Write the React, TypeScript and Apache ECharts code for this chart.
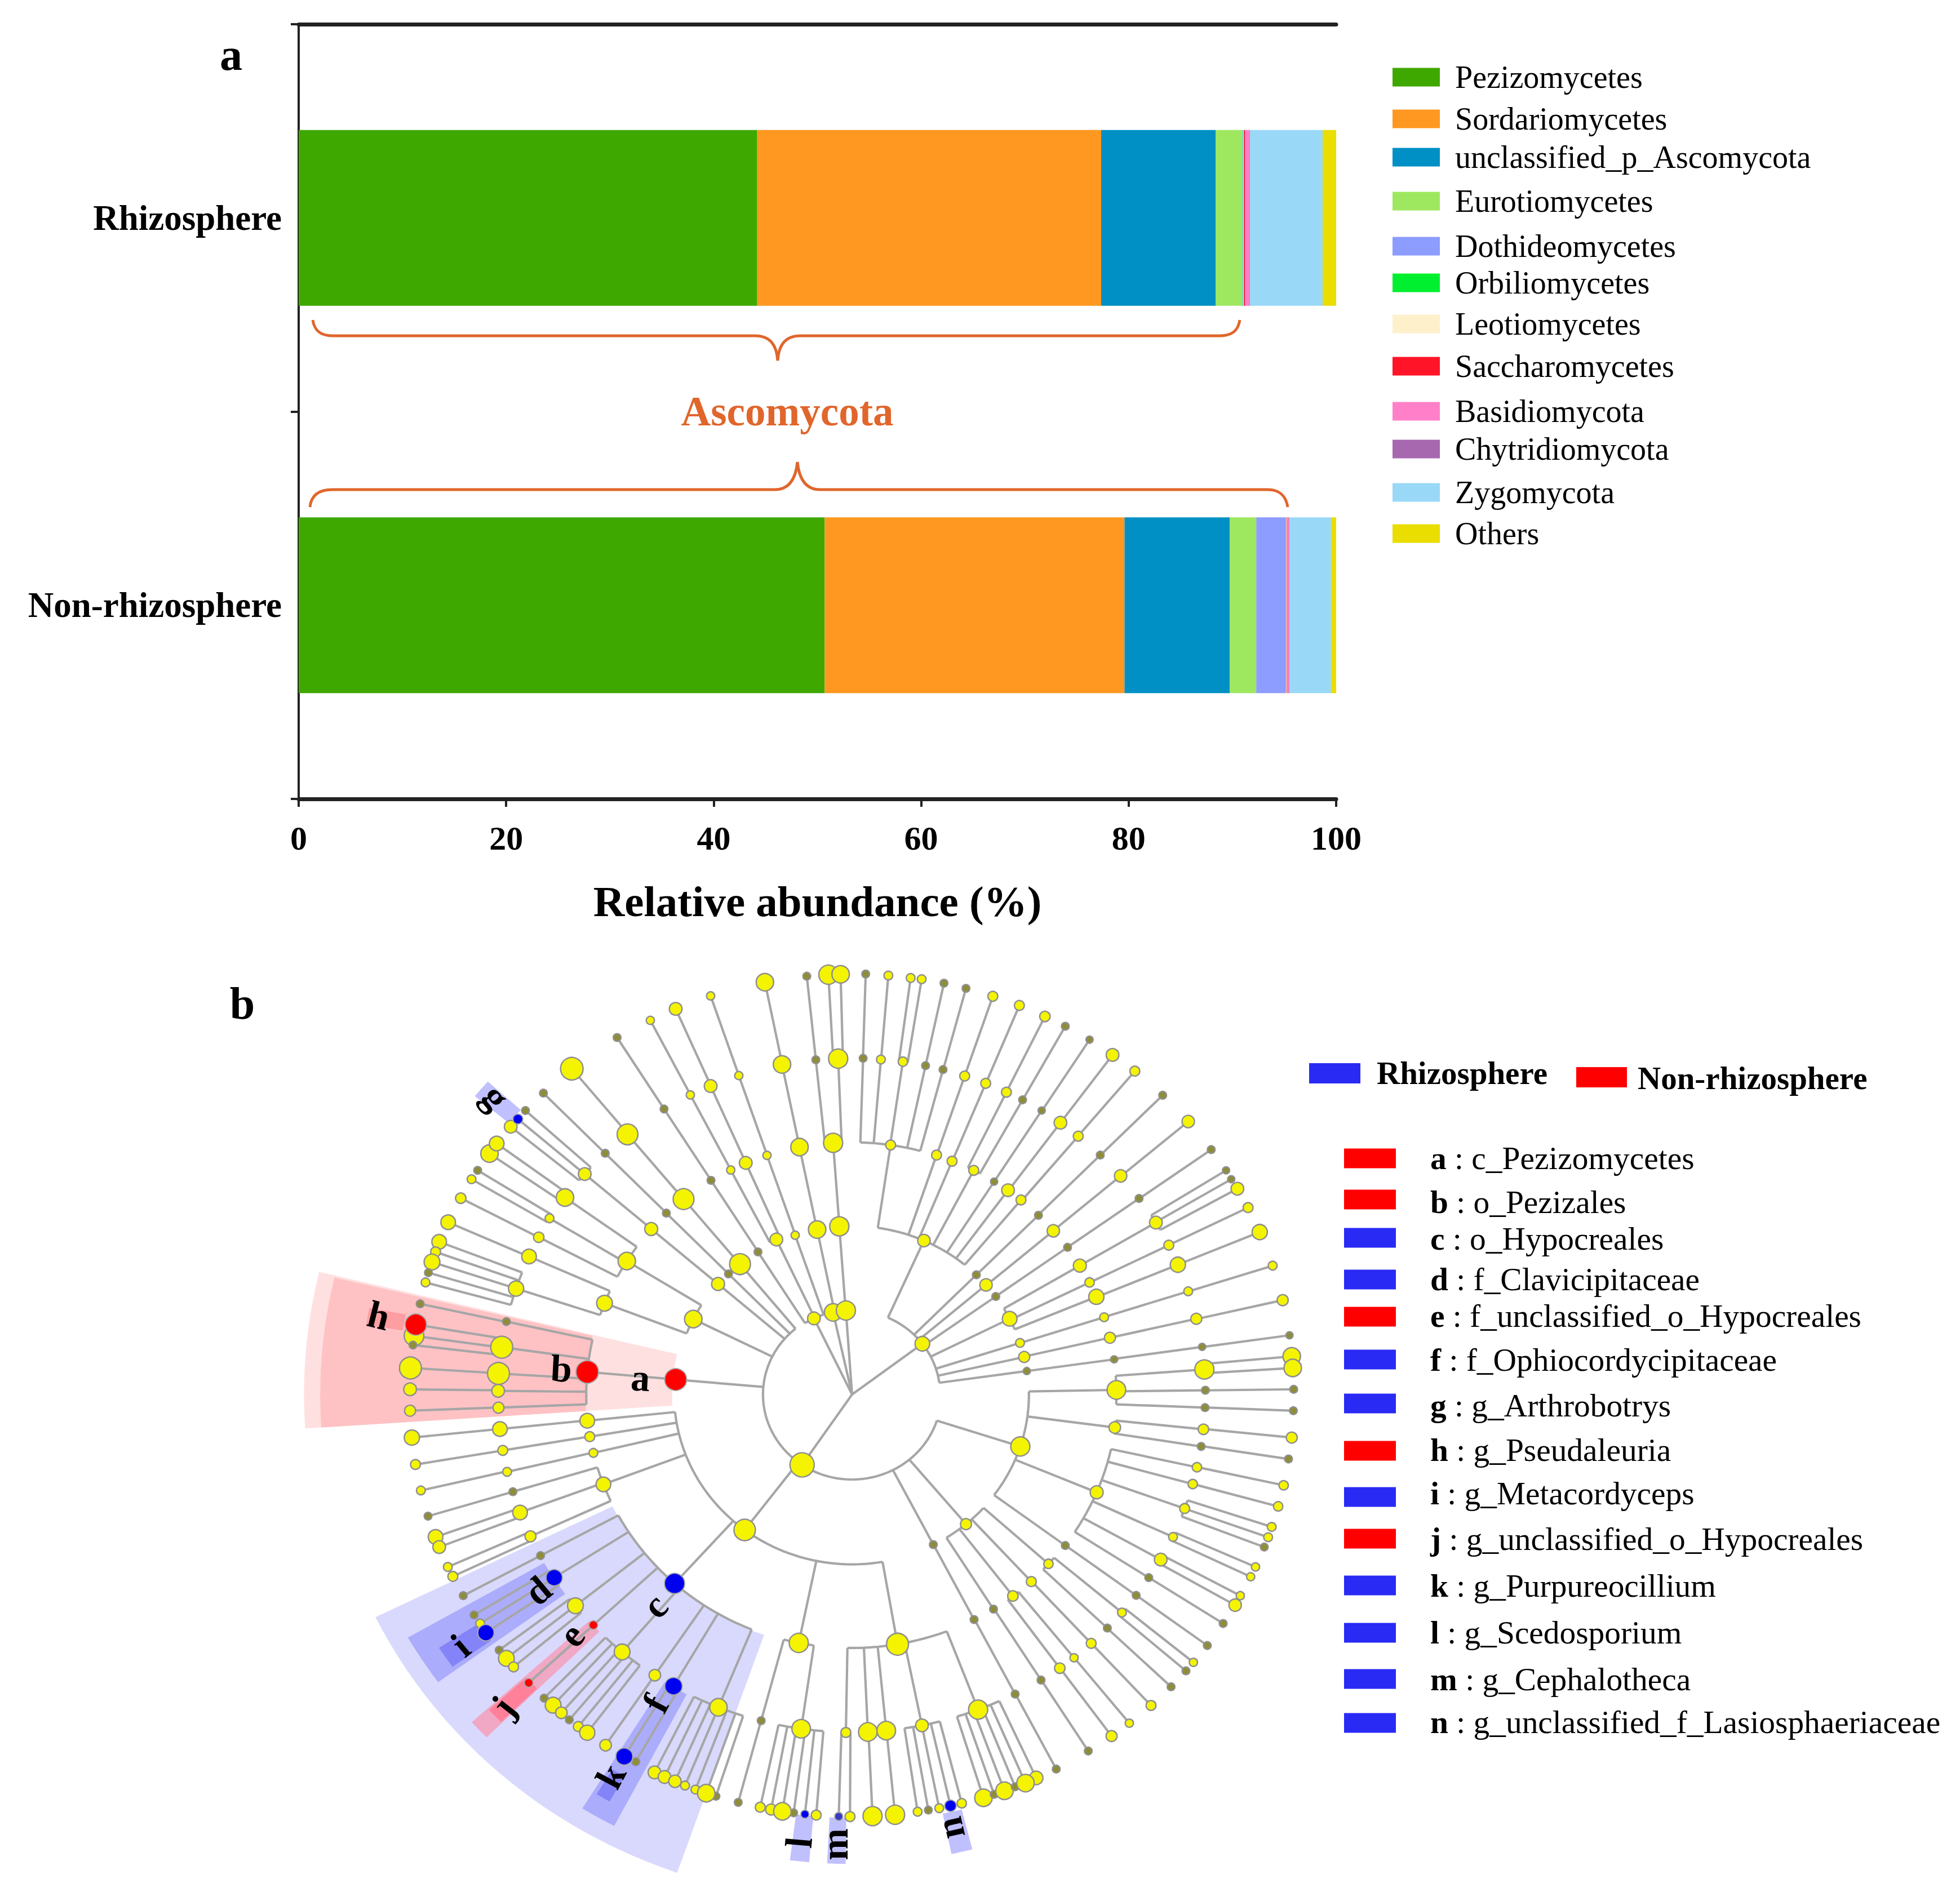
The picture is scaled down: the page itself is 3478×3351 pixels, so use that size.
import React, { useEffect, useRef } from "react";
import * as echarts from "echarts";

const FONT = "'Liberation Serif'";

// ---------- panel a ----------
const groups = ["Rhizosphere", "Non-rhizosphere"];
const taxa = ["Pezizomycetes", "Sordariomycetes", "unclassified_p_Ascomycota", "Eurotiomycetes", "Dothideomycetes", "Orbiliomycetes", "Leotiomycetes", "Saccharomycetes", "Basidiomycota", "Chytridiomycota", "Zygomycota", "Others"];
const rhizosphereValues = [44.2, 33.15, 11.05, 2.55, 0.05, 0.05, 0.05, 0.1, 0.45, 0.05, 7.0, 1.3];
const nonRhizosphereValues = [50.7, 28.9, 10.15, 2.55, 2.85, 0.03, 0.03, 0.04, 0.2, 0.05, 4.0, 0.5];
const taxaColors = ["#3fa800", "#ff9820", "#0090c5", "#9ee85f", "#8c9cff", "#00f030", "#fff0cc", "#ff1428", "#ff80c8", "#a868b0", "#9ad8f8", "#eadd00"];
const taxaLegendY = [137, 211, 279, 357, 437, 502, 575, 650, 730, 797, 874, 947];

// ---------- panel b legend ----------
const biomarkerLetters = ["a", "b", "c", "d", "e", "f", "g", "h", "i", "j", "k", "l", "m", "n"];
const biomarkerNames = ["c_Pezizomycetes", "o_Pezizales", "o_Hypocreales", "f_Clavicipitaceae", "f_unclassified_o_Hypocreales", "f_Ophiocordycipitaceae", "g_Arthrobotrys", "g_Pseudaleuria", "g_Metacordyceps", "g_unclassified_o_Hypocreales", "g_Purpureocillium", "g_Scedosporium", "g_Cephalotheca", "g_unclassified_f_Lasiosphaeriaceae"];
const biomarkerGroup = ["N", "N", "R", "R", "N", "R", "R", "N", "R", "N", "R", "R", "R", "R"];
const biomarkerSwatchY = [2056, 2129, 2197, 2271, 2337, 2413, 2491, 2575, 2657, 2731, 2814, 2898, 2980, 3058];
const biomarkerTextY = [2055, 2133, 2198, 2270, 2335, 2413, 2494, 2573, 2650, 2731, 2814, 2897, 2980, 3056];

// ---------- cladogram: positions ----------
const A = (x: number, y: number) => [500 + x / 1.568, 1680 + y / 1.845];
const B = (x: number, y: number) => [1500 + x / 1.742, 1680 + y / 1.845];
const C = (x: number, y: number) => [500 + x / 1.568, 2500 + y / 1.8425];
const D = (x: number, y: number) => [1500 + x / 1.742, 2500 + y / 1.8425];
const E = (x: number, y: number) => [1300 + x / 3, 2850 + y / 3];
const F = (x: number, y: number) => [1150 + x / 3, 1700 + y / 3];
const G = (x: number, y: number) => [1250 + x / 3, 2200 + y / 3];

const T = 11, S = 15, M = 20, L = 25, X = 30, Y = 36, H = 42;
const RED = "#ff0000", BLUE = "#0000f0", YELLOW = "#f4f400", OLIVE = "#8e8e34";
type N = { p: number[]; s: number; k?: N[]; c?: string };
const n = (p: number[], s: number, k?: N[], c?: string): N => ({ p, s, k, c });
const chain = (s: number, ...ps: number[][]): N => {
  const [h, ...t] = ps;
  return n(h, s, t.length ? [chain(s, ...t)] : undefined);
};

const upperLeftA = n(A(1145, 1220), X, [
  n(A(960, 1030), X, [
    n(A(788, 822), X, [n(A(578, 678), X), n(A(598, 645), L)]),
    n(A(745, 890), S - 2, [n(A(545, 733), T), n(A(528, 762), S - 2)]),
    n(A(715, 952), M - 4, [n(A(498, 824), M - 4)]),
  ]),
  n(A(898, 1168), X - 3, [
    n(A(688, 1015), L, [n(A(463, 903), L)]),
    n(A(652, 1120), L + 1, [n(A(438, 967), L), n(A(428, 1000), S), n(A(418, 1033), X - 3), n(A(408, 1068), T), n(A(400, 1100), S - 2)]),
  ]),
]);
const upperLeftB = n(A(1214, 1105), M + 2, [n(A(1028, 925), M + 2, [n(A(843, 745), M, [n(A(637, 590), M), n(A(678, 537), T), n(A(657, 565), S, undefined, BLUE)])])]);
const upperLeftC = chain(T, A(1243, 1072), A(1070, 873), A(900, 677), A(728, 480));
const upperLeftD = n(A(1275, 1040), Y, [n(A(1118, 827), Y, [n(A(962, 615), Y, [n(A(807, 400), Y + 3)])])]);

const pezizomycetes = n(A(1096, 1418), 38, [
  n(A(850, 1393), 39, [
    n(A(625, 1228), T, [n(A(385, 1170), T)]),
    n(A(612, 1312), 38, [n(A(368, 1275), X + 4), n(A(365, 1305), T), n(A(373, 1238), 37, undefined, RED)]),
    n(A(603, 1398), 38, [n(A(358, 1380), 38)]),
    n(A(602, 1455), M, [n(A(357, 1450), M)]),
    n(A(603, 1510), S + 2, [n(A(357, 1520), S + 2)]),
  ], RED),
], RED);

const hypocreales = n(C(1093, 572), 35, [
  n(C(720, 481), T, [n(C(505, 612), T)]),
  n(C(758, 553), 28, [n(C(535, 675), T), n(C(552, 703), S - 2), n(C(568, 733), 28, undefined, BLUE)], BLUE),
  n(C(817, 645), L + 2, [n(C(605, 790), T), n(C(625, 817), L + 2), n(C(645, 845), S)]),
  n(C(867, 708), 13, [n(C(687, 897), 13, undefined, RED)], RED),
  n(C(947, 796), L + 2, [n(C(730, 947), T), n(C(755, 970), L + 2), n(C(778, 995), M - 2), n(C(800, 1018), T), n(C(825, 1040), S), n(C(850, 1060), L + 1)]),
  n(C(1038, 872), S + 3, [n(C(901, 1101), S + 3)]),
  n(C(1090, 908), 30, [n(C(985, 1155), T), n(C(953, 1138), 29, undefined, BLUE)], BLUE),
  n(C(1215, 977), X, [n(C(1037, 1190), M), n(C(1065, 1205), M), n(C(1094, 1219), M + 1), n(C(1122, 1233), S - 2), n(C(1151, 1246), S - 2), n(C(1208, 1268), T), n(C(1181, 1258), X)]),
], BLUE);

const lowerA = n(E(352, 198), 33, [
  n(E(152, 612), T, [n(C(1270, 1288), T)]),
  n(E(365, 655), 32, [n(E(147, 1073), S), n(E(205, 1085), 17), n(E(325, 1103), T), n(E(265, 1095), X), n(E(385, 1110), 12, undefined, BLUE), n(E(445, 1115), S)]),
]);
const lowerB = n(E(878, 205), 38, [
  n(E(603, 675), S, [n(E(565, 1122), T + 1, undefined, "#3a3ac0"), n(E(625, 1123), S)]),
  n(E(720, 672), 32, [n(E(745, 1120), 33)]),
  n(E(818, 665), 32, [n(E(865, 1113), 33)]),
  n(E(1008, 637), M, [n(E(985, 1097), S - 2), n(E(1042, 1088), T), n(E(1100, 1078), S - 2), n(E(1160, 1065), 18, undefined, BLUE), n(E(1220, 1052), S - 1)]),
  n(E(1307, 553), 33, [n(D(590, 1208), L - 2), n(D(427, 1273), X), n(D(460, 1262), T), n(D(492, 1250), X), n(D(525, 1237), T), n(D(557, 1225), X)]),
]);

const ascomycotaCore = n(C(1288, 397), 37, [
  n(C(850, 40), L, [n(C(607, 67), L, [n(C(362, 95), L + 1)])]),
  chain(S, C(857, 92), C(615, 137), C(372, 183)),
  chain(S - 2, C(867, 145), C(627, 207), C(387, 268)),
  n(C(895, 248), L, [
    n(C(643, 272), T, [n(C(407, 352), T)]),
    n(C(663, 340), L, [n(C(428, 420), L), n(C(438, 453), M)]),
    n(C(692, 418), M - 3, [n(C(462, 518), S - 2), n(C(476, 549), S)]),
  ]),
  hypocreales,
  lowerA,
  lowerB,
]);

const lowerRightA = chain(T, D(272, 445), D(398, 690), D(525, 934), D(652, 1179));
const lowerRightB = n(D(373, 378), S + 2, [
  n(D(458, 656), T, [n(D(605, 888), T, [n(D(751, 1120), T)])]),
  n(D(518, 613), S + 1, [n(D(663, 849), S + 1, [n(D(823, 1071), S + 2)]), n(D(707, 815), T + 1, [n(D(878, 1029), T + 1)])]),
  chain(S, D(575, 566), D(760, 768), D(945, 971)),
  n(D(628, 508), S - 1, [n(D(810, 718), T, [n(D(1007, 910), T)]), n(D(855, 667), S - 2, [n(D(1053, 858), T), n(D(1076, 830), T + 1)])]),
]);
const lowerRightC = n(D(541, 124), 33, [
  n(B(838, 1452), 32, [
    n(B(1110, 1385), 33, [n(B(1380, 1342), 30), n(B(1383, 1380), 30)]),
    n(B(1113, 1453), T, [n(B(1386, 1450), T)]),
    n(B(1112, 1510), T, [n(B(1385, 1520), T)]),
  ]),
  n(D(833, 62), S + 3, [n(D(1107, 68), S + 1, [n(D(1380, 95), S + 2)]), n(D(1100, 124), T, [n(D(1370, 165), T)])]),
  n(D(777, 274), M + 2, [
    chain(S - 1, D(1087, 192), D(1355, 251)),
    chain(S - 1, D(1074, 247), D(1338, 320)),
    n(D(1049, 327), S, [n(D(1318, 387), S - 2), n(D(1307, 421), S - 2), n(D(1295, 453), T)]),
    n(D(1013, 420), S - 2, [n(D(1268, 518), T + 1), n(D(1253, 550), T + 1)]),
    n(D(975, 494), M, [n(D(1221, 612), T + 1), n(D(1205, 643), M + 1)]),
    n(D(938, 553), T, [n(D(1168, 703), T)]),
  ]),
  n(D(680, 448), T, [n(D(899, 611), T, [n(D(1119, 775), T)])]),
]);

const phylumLowerLeft = n(G(520, 1200), H, [upperLeftA, upperLeftB, upperLeftC, upperLeftD, pezizomycetes, ascomycotaCore, lowerRightA, lowerRightB, lowerRightC]);

const phylumTopA = n(G(583, 420), M, [
  chain(T, F(585, 1566), F(335, 1185), F(85, 805), A(933, 298)),
  n(F(683, 1500), M, [
    chain(T + 1, F(440, 1130), F(225, 730), F(12, 333)),
    n(F(520, 1092), M, [n(F(333, 683), M, [n(F(147, 272), M)])]),
  ]),
  chain(T + 1, F(783, 1477), F(633, 1052), F(483, 627), F(333, 203)),
]);
const phylumTopB = n(G(685, 388), X, [chain(X, F(900, 1447), F(806, 1008), F(713, 568), F(622, 130))]);
const phylumTopC = n(G(753, 378), 33, [
  n(F(1018, 1430), 33, [
    n(F(985, 985), 33, [
      chain(T, F(893, 543), F(845, 98)),
      n(F(1012, 537), 33, [n(F(960, 90), 33), n(F(1025, 88), X)]),
    ]),
  ]),
]);

const phylumRight = n(G(1160, 555), L, [
  n(B(243, 963), M + 1, [
    n(B(140, 650), S, [
      chain(T, B(55, 366), B(63, 90)),
      chain(S - 2, B(110, 370), B(133, 95)),
      n(B(178, 377), S - 1, [n(B(202, 103), S - 2), n(B(236, 107), S - 2)]),
      chain(T, B(248, 390), B(305, 120)),
      chain(T, B(302, 403), B(373, 137)),
    ]),
    chain(S, B(282, 683), B(369, 424), B(456, 163)),
    chain(S, B(330, 703), B(434, 448), B(538, 193)),
    n(B(397, 733), S, [n(B(498, 477), S, [n(B(617, 229), S + 1)]), n(B(548, 502), T, [n(B(680, 261), T)])]),
    chain(T - 1, B(460, 770), B(607, 537), B(755, 305)),
    n(B(503, 798), M, [n(B(665, 577), M, [n(B(826, 355), M)])]),
    chain(S, B(543, 830), B(720, 621), B(895, 408)),
  ]),
  chain(T, B(405, 1075), B(597, 880), B(788, 683), B(981, 487)),
  n(B(435, 1108), M + 1, [n(B(643, 931), M + 1, [n(B(851, 751), M + 1, [n(B(1060, 573), M + 1)])])]),
  chain(T, B(465, 1146), B(687, 985), B(908, 825), B(1131, 665)),
  n(B(508, 1219), L, [
    n(B(725, 1045), M + 2, [n(B(960, 904), M, [n(B(1177, 733), T - 1), n(B(1193, 762), T - 1), n(B(1212, 793), M)])]),
    n(B(755, 1100), S - 1, [n(B(1000, 978), S, [n(B(1245, 855), S)])]),
    n(B(776, 1147), L + 1, [n(B(1028, 1042), L + 1, [n(B(1281, 935), L + 1)])]),
  ]),
  chain(S - 2, B(540, 1298), B(800, 1214), B(1060, 1129), B(1321, 1045)),
  n(B(553, 1344), S + 2, [n(B(818, 1281), S + 2, [n(B(1085, 1219), S + 2, [n(B(1352, 1158), S + 2)])])]),
  chain(T - 1, B(561, 1390), B(831, 1352), B(1103, 1311), B(1373, 1273)),
]);

const phyla = [phylumLowerLeft, phylumTopA, phylumTopB, phylumTopC, phylumRight];

// shaded clade sectors: inner corner, opposite outer corner, colour
const sectors: [number[], number[], string][] = [
  [A(1100, 1335), C(65, 65), "#ffe0e0"],
  [A(865, 1275), C(110, 62), "#ffc2c4"],
  [A(345, 1205), A(235, 1240), "#ff9ea2"],
  [C(920, 320), C(1100, 1518), "#d9d9fd"],
  [C(730, 505), C(435, 895), "#acacfc"],
  [C(548, 703), C(475, 845), "#8484f8"],
  [C(855, 695), C(570, 1075), "#f0a8c4"],
  [C(680, 880), C(610, 1025), "#ff8098"],
  [C(1065, 895), C(925, 1365), "#acacfc"],
  [C(920, 1180), C(912, 1285), "#8484f8"],
  [A(665, 535), A(537, 490), "#c0c0ff"],
  [E(430, 1120), E(305, 1355), "#c0c0ff"],
  [E(605, 1130), E(503, 1372), "#c0c0ff"],
  [E(1220, 1085), E(1165, 1322), "#c0c0ff"],
];

const cladeLetters: [string, number[], number][] = [
  ["a", A(998, 1412), -3], ["b", A(778, 1382), -3], ["c", C(1038, 645), 48], ["d", C(712, 595), 40],
  ["e", C(806, 740), 50], ["f", C(1040, 965), 62], ["g", A(596, 492), -50], ["h", A(270, 1208), -14],
  ["i", C(497, 775), 40], ["j", C(616, 974), 52], ["k", C(915, 1202), 62], ["l", E(352, 1260), 85],
  ["m", E(542, 1270), 90], ["n", E(1158, 1185), 103],
];

// ---------- geometry helpers ----------
const CX = 1512, CY = 2475, SQUASH = 0.955;
const polar = (p: number[]) => {
  const dx = p[0] - CX, dy = (p[1] - CY) / SQUASH;
  return { r: Math.hypot(dx, dy), a: Math.atan2(dy, dx) };
};
const toXY = (r: number, a: number) => [CX + r * Math.cos(a), CY + r * Math.sin(a) * SQUASH];
const wrap = (d: number) => Math.atan2(Math.sin(d), Math.cos(d));
const sweep = (r: number, a0: number, a1: number) => {
  const steps = Math.max(1, Math.ceil(Math.abs(a1 - a0) / 0.03));
  const out: number[][] = [];
  for (let i = 0; i <= steps; i++) out.push(toXY(r, a0 + ((a1 - a0) * i) / steps));
  return out;
};

const edges: number[][][] = [];
const nodes: any[] = [];
const visit = (node: N) => {
  const me = polar(node.p);
  if (node.k && node.k.length) {
    const diffs = node.k.map((c) => wrap(polar(c.p).a - me.a));
    edges.push(sweep(me.r, me.a + Math.min(0, ...diffs), me.a + Math.max(0, ...diffs)));
    node.k.forEach((c) => {
      const pc = polar(c.p);
      edges.push([toXY(me.r, pc.a), c.p]);
    });
  }
  const fill = node.c || (node.s <= T ? OLIVE : YELLOW);
  nodes.push({
    value: node.p,
    symbolSize: node.s + (node.s <= M ? 2.5 : 1),
    itemStyle: { color: fill, borderColor: node.c ? "#a9a9a9" : "#8f8f8f", borderWidth: node.c ? 2 : 2.5, opacity: 1 },
  });
  (node.k || []).forEach(visit);
};
phyla.forEach((p) => {
  edges.push([[CX, CY], p.p]);
  visit(p);
});

const sectorShapes = sectors.map(([p, q, color]) => {
  const a = polar(p), b = polar(q);
  const end = a.a + wrap(b.a - a.a);
  return { color, pts: [...sweep(a.r, a.a, end), ...sweep(b.r, end, a.a)] };
});

// ---------- braces ----------
const BRACE = "#e0662c";
echarts.graphic.registerShape("braceTop", echarts.graphic.extendPath(
  "M555 568 C558 588 570 596 590 596 L1340 596 C1365 596 1378 610 1380 640 C1382 610 1395 596 1420 596 L2165 596 C2185 596 2197 588 2200 568", {}));
echarts.graphic.registerShape("braceBottom", echarts.graphic.extendPath(
  "M550 900 C552 880 565 869 590 869 L1375 869 C1400 869 1412 850 1415 820 C1418 850 1430 869 1455 869 L2250 869 C2270 869 2282 880 2285 900", {}));

const txt = (text: string, x: number, y: number, size: number, bold = false, extra: any = {}) => ({
  type: "text", x, y, z: 100,
  style: { text, fill: "#000", align: "left", verticalAlign: "middle", fontFamily: FONT, fontSize: size, fontWeight: bold ? "bold" : "normal", ...extra },
});
const box = (x: number, cy: number, w: number, h: number, fill: string) => ({
  type: "rect", z: 100, shape: { x, y: cy - h / 2, width: w, height: h }, style: { fill },
});

const graphics: any[] = [
  txt("a", 410, 97, 80, true, { align: "center" }),
  txt("b", 430, 1781, 80, true, { align: "center" }),
  { type: "braceTop", x: 0, y: 0, z: 100, style: { fill: "none", stroke: BRACE, lineWidth: 5 } },
  { type: "braceBottom", x: 0, y: 0, z: 100, style: { fill: "none", stroke: BRACE, lineWidth: 5 } },
  txt("Ascomycota", 1397, 730, 73, true, { align: "center", fill: "#e0662c" }),
  ...taxa.flatMap((t, i) => [
    box(2471, taxaLegendY[i], 84, 33, taxaColors[i]),
    txt(t, 2582, taxaLegendY[i], 56),
  ]),
  box(2323, 1905, 91, 36, "#2a2af5"),
  txt("Rhizosphere", 2443, 1904, 57, true),
  box(2797, 1912, 90, 36, "#ff0000"),
  txt("Non-rhizosphere", 2906, 1913, 57, true),
  ...biomarkerLetters.flatMap((l, i) => [
    box(2385, biomarkerSwatchY[i], 92, 35, biomarkerGroup[i] === "N" ? "#ff0000" : "#2a2af5"),
    {
      type: "text", x: 2538, y: biomarkerTextY[i], z: 100,
      style: {
        text: `{b|${l}} : ${biomarkerNames[i]}`, fill: "#000", align: "left", verticalAlign: "middle",
        fontFamily: FONT, fontSize: 57.4,
        rich: { b: { fontFamily: FONT, fontSize: 57.4, fontWeight: "bold", fill: "#000" } },
      },
    },
  ]),
  ...cladeLetters.map(([l, p, deg]) => ({
    type: "text", x: p[0], y: p[1], rotation: (deg * Math.PI) / 180, z: 100,
    style: { text: l, fill: "#000", align: "center", verticalAlign: "middle", fontFamily: FONT, fontSize: 68, fontWeight: "bold" },
  })),
];

const option: any = {
  animation: false,
  backgroundColor: "#fff",
  grid: [
    { left: 530, top: 43, width: 1841, height: 1375 },
    { left: 0, top: 0, width: 3478, height: 3351 },
  ],
  xAxis: [
    {
      type: "value", gridIndex: 0, min: 0, max: 100, interval: 20, position: "bottom",
      splitLine: { show: false },
      axisLine: { show: true, lineStyle: { color: "#222", width: 7 } },
      axisTick: { show: true, length: 14, lineStyle: { color: "#222", width: 4 } },
      axisLabel: { margin: 40, fontFamily: FONT, fontSize: 60, fontWeight: "bold", color: "#000" },
      name: "Relative abundance (%)", nameLocation: "middle", nameGap: 143,
      nameTextStyle: { fontFamily: FONT, fontSize: 77, fontWeight: "bold", color: "#000" },
    },
    {
      type: "value", gridIndex: 0, min: 0, max: 100, position: "top",
      splitLine: { show: false }, axisTick: { show: false }, axisLabel: { show: false },
      axisLine: { show: true, lineStyle: { color: "#222", width: 7 } },
    },
    { type: "value", gridIndex: 1, min: 0, max: 3478, show: false },
  ],
  yAxis: [
    {
      type: "category", gridIndex: 0, data: groups, inverse: true,
      axisLine: { show: true, lineStyle: { color: "#222", width: 4 } },
      axisTick: { show: true, length: 14, lineStyle: { color: "#222", width: 4 } },
      axisLabel: { margin: 30, fontFamily: FONT, fontSize: 63, fontWeight: "bold", color: "#000" },
    },
    {
      type: "value", gridIndex: 0, position: "right", min: 0, max: 1,
      splitLine: { show: false }, axisTick: { show: false }, axisLabel: { show: false },
      axisLine: { show: true, lineStyle: { color: "#222", width: 4 } },
    },
    { type: "value", gridIndex: 1, min: 0, max: 3351, inverse: true, show: false },
  ],
  series: [
    ...taxa.map((name, i) => ({
      type: "bar", name, stack: "abundance", xAxisIndex: 0, yAxisIndex: 0, barWidth: 312,
      data: [rhizosphereValues[i], nonRhizosphereValues[i]],
      itemStyle: { color: taxaColors[i] }, z: 2,
    })),
    {
      type: "custom", coordinateSystem: "cartesian2d", xAxisIndex: 2, yAxisIndex: 2, silent: true, z: 1, clip: false,
      data: sectorShapes.map((s, i) => [s.pts[0][0], s.pts[0][1], i]),
      encode: { x: 0, y: 1 },
      renderItem: (_: any, api: any) => {
        const s = sectorShapes[api.value(2)];
        return { type: "polygon", shape: { points: s.pts.map((p) => api.coord(p)) }, style: { fill: s.color } };
      },
    },
    {
      type: "lines", coordinateSystem: "cartesian2d", xAxisIndex: 2, yAxisIndex: 2, polyline: true, silent: true, z: 3,
      lineStyle: { color: "#a6a6a6", width: 4.2, opacity: 1 },
      data: edges.map((coords) => ({ coords })),
    },
    {
      type: "scatter", xAxisIndex: 2, yAxisIndex: 2, silent: true, z: 4, symbol: "circle",
      data: nodes,
    },
  ],
  graphic: { elements: graphics },
};

export default function App() {
  const ref = useRef<HTMLDivElement>(null);
  useEffect(() => {
    document.body.style.margin = "0";
    const chart = echarts.init(ref.current!, undefined, { renderer: "svg" });
    chart.setOption(option);
    return () => chart.dispose();
  }, []);
  return <div ref={ref} style={{ position: "absolute", left: 0, top: 0, width: 3478, height: 3351 }} />;
}
